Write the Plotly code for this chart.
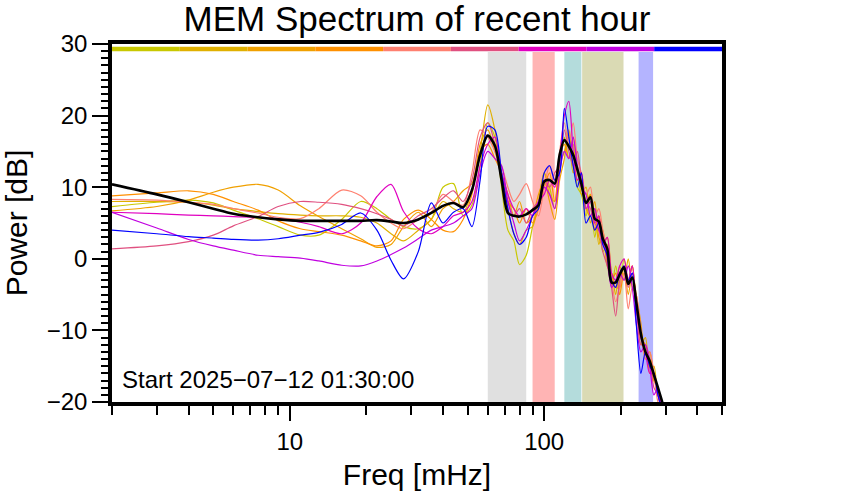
import math
import plotly.graph_objects as go

# ---------------- data ----------------
freq = [2, 3, 4, 5, 6, 7.5, 9, 11, 13, 16,
        19, 22, 25, 28, 32, 36, 40, 44, 48, 52,
        56, 60, 64, 68, 72, 76, 80, 85, 90, 95,
        100, 105, 110, 115, 120, 125, 130, 135, 140, 146,
        152, 158, 164, 170, 177, 184, 191, 198, 206, 214,
        222, 230, 240, 250, 260, 270, 280, 290, 300]

series_names = ["yg", "gold", "org1", "org2", "salmon", "pink", "magenta", "purple", "blue"]
series_colors = ["#c8c800", "#e0b000", "#f0a000", "#ff9000", "#ff8070",
                 "#e05080", "#e000c0", "#c000e0", "#0000ff"]

yg = [7.3, 7.9, 8.2, 7.8, 6.8, 5.6, 4.5, 3.3, 3.3, 5.5,
      8.0, 7.0, 5.5, 4.5, 4.2, 5.5, 10.0, 10.5, 6.0, 7.5,
      13, 19, 17, 10, 4, 2.5, -0.8, 0.5, 4.5, 8,
      12, 10, 7, 12, 17, 14, 16, 10, 9, 6,
      9, 3, 6, 1, 2, -4, -1, -4, 0, -3,
      -1, -7, -10, -13, -15, -16, -19, -21, -24]
gold = [8.0, 8.0, 7.9, 7.5, 7.0, 6.6, 6.3, 6.1, 6.0, 6.0,
        5.8, 5.0, 3.5, 2.5, 4.0, 5.5, 8.0, 7.0, 6.5, 9.5,
        15, 21.5, 18, 11, 7, 3.5, 2, 4, 4.5, 8,
        12, 9, 8, 13, 15, 17, 12, 13, 9, 10,
        5, 7, 2, 4, -1, -2, -5, -1, -3, 0,
        -4, -5, -12, -11, -16, -15, -19, -20, -23]
org1 = [6.7, 7.3, 8.2, 9.3, 10.0, 10.4, 9.6, 7.4, 5.9, 4.2,
        2.8, 1.6, 2.0, 4.5, 6.5, 4.5, 7.0, 8.0, 9.5, 10.5,
        16, 18, 15, 12, 9, 6, 8, 5, 6, 9,
        11, 8, 5.5, 11, 14, 18, 13, 11, 12, 7,
        6, 8, 3, 2, 3, -2, -4, -4, -1, -5,
        -2, -5, -9, -14, -13, -17, -18, -21, -24]
org2 = [8.8, 9.2, 9.5, 9.0, 8.0, 6.8, 5.3, 4.2, 3.8, 3.3,
        2.5, 1.8, 2.5, 5.5, 6.8, 5.5, 4.0, 3.8, 5.5, 9.0,
        15, 16, 14, 12, 8, 7, 5, 7, 5, 7,
        10, 12, 8, 14, 16, 14, 17, 12, 10, 8,
        9, 4, 6, 3, 0, -3, -2, -5, -2, -3,
        -1, -6, -11, -12, -15, -17, -18, -22, -25]
salmon = [8.3, 8.2, 7.9, 7.6, 7.0, 6.4, 5.8, 5.6, 7.0, 9.6,
          8.8, 6.5, 5.0, 4.2, 5.5, 6.5, 9.0, 8.0, 7.5, 12.0,
          18, 17, 15, 13, 10, 8, 9, 10.5, 8, 6,
          10, 13, 11, 15, 19, 16, 19, 14, 12, 9,
          10, 6, 7, 4, 1, -3, -6, -4, -2, -7,
          -4, -5, -10, -14, -13, -16, -20, -21, -24]
pink = [1.4, 1.8, 2.4, 3.3, 4.6, 5.9, 7.3, 8.0, 7.9, 7.6,
        7.0, 6.3, 5.5, 4.6, 6.0, 7.0, 8.5, 9.5, 8.0, 11.0,
        17, 19, 16, 11, 8, 6, 7, 5, 7, 8,
        11, 10, 12, 13, 18, 15, 13, 15, 11, 8,
        7, 5, 4, 1, -1, -4, -8, -3, -1, -4,
        -2, -6, -12, -12, -14, -18, -19, -22, -24]
magenta = [6.5, 6.3, 6.1, 6.0, 5.9, 5.8, 5.6, 5.1, 4.5, 3.5,
           5.0, 8.7, 10.4, 6.6, 4.2, 3.5, 4.5, 6.0, 6.5, 8.0,
           13, 16, 17, 12, 9, 7, 6, 7, 6, 8,
           9, 11, 10, 14, 20, 22, 15, 11, 12, 7,
           8, 5, 6, 2, 3, -2, -3, -1, 0, -3,
           -1, -7, -11, -13, -16, -16, -19, -21, -25]
purple = [6.5, 4.3, 2.7, 1.8, 1.2, 0.5, 0.3, 0.1, -0.3, -0.9,
          -1.0, -0.3, 0.6, 1.5, 2.8, 4.0, 4.5, 5.0, 6.0, 7.0,
          12, 15, 14, 13, 8, 5, 2.5, 4, 6, 8,
          10, 9, 7, 12, 15, 14, 17, 13, 10, 9,
          6, 7, 4, 3, 0, -4, -3, -2, -3, -1,
          -4, -9, -13, -12, -15, -19, -18, -22, -25]
blue = [4.0, 3.5, 3.1, 2.9, 2.7, 2.6, 2.8, 3.3, 3.7, 4.8,
        6.4, 4.0, -0.2, -2.8, 1.0, 7.8, 5.0, 6.5, 7.0, 4.5,
        11, 18.5, 18, 12, 7, 3.5, 2, 3, 6, 7,
        12, 13, 11, 12, 21, 17, 13, 10, 12, 5,
        6, 4, 5, 2, 0.5, -3, -4, -2, -1, -3,
        -2, -9, -16, -13, -15, -16, -19, -21, -23]
mean_power = [10.4, 9.0, 7.9, 7.0, 6.3, 5.8, 5.5, 5.3, 5.3, 5.3,
              5.3, 5.4, 5.2, 5.0, 5.5, 6.4, 7.4, 7.8, 7.2, 9.6,
              14.5, 17.2, 15.8, 11.0, 6.4, 6.0, 5.9, 6.2, 6.8, 7.5,
              10.8, 11.0, 10.5, 14.5, 16.6, 15.7, 14.5, 12.5, 10.5, 7.8,
              8.6, 5.6, 5.2, 2.8, 1.4, -3.3, -3.3, -2.2, -1.2, -3.5,
              -2.6, -6.0, -10.5, -13.0, -14.3, -16.2, -18.0, -19.8, -22.0]

series_values = [yg, gold, org1, org2, salmon, pink, magenta, purple, blue]

band_lo = [60, 90, 120, 141, 235]
band_hi = [85, 110, 140, 205, 268]
band_colors = ["#e0e0e0", "#ffb4b4", "#b4dcdc", "#dadab4", "#b4b4ff"]

x_major = [10, 100]
x_minor = [2, 3, 4, 5, 6, 7, 8, 9, 20, 30, 40, 50, 60, 70, 80, 90, 200, 300, 400, 500]

# ---------------- figure ----------------
fig = go.Figure()
for name, col, vals in zip(series_names, series_colors, series_values):
    fig.add_trace(go.Scatter(x=freq, y=vals, mode="lines", name=name,
                             line=dict(color=col, width=1.2, shape="spline", smoothing=0.8),
                             hoverinfo="skip"))
fig.add_trace(go.Scatter(x=freq, y=mean_power, mode="lines", name="mean",
                         line=dict(color="black", width=2.6, shape="spline", smoothing=0.8),
                         hoverinfo="skip"))

shapes = []
for lo, hi, col in zip(band_lo, band_hi, band_colors):
    shapes.append(dict(type="rect", xref="x", yref="y", x0=lo, x1=hi, y0=-20, y1=28.9,
                       fillcolor=col, line=dict(width=0), layer="below"))
n = len(series_colors)
for i, col in enumerate(series_colors):
    shapes.append(dict(type="rect", xref="paper", yref="paper", x0=i / n, x1=(i + 1) / n,
                       y0=0.980, y1=0.9925, fillcolor=col, line=dict(width=0), layer="above"))

FONT = "Liberation Sans, Arial, Helvetica, sans-serif"
fig.update_layout(
    width=842, height=500,
    margin=dict(l=108, r=120, t=44, b=98),
    plot_bgcolor="white", paper_bgcolor="white",
    showlegend=False,
    font=dict(family=FONT, size=24, color="black"),
    title=dict(text="MEM Spectrum of recent hour", x=0.5, xref="paper",
               y=0.963, yanchor="middle", font=dict(size=35)),
    shapes=shapes,
    annotations=[dict(text="Start 2025\u221207\u221212 01:30:00", xref="paper", yref="paper",
                      x=0.013, y=0.062, xanchor="left", yanchor="middle",
                      showarrow=False, font=dict(size=24))],
)
fig.update_xaxes(type="log", range=[math.log10(2), math.log10(500)],
                 tickvals=x_major, ticktext=[str(v) for v in x_major],
                 ticks="outside", ticklen=15, tickwidth=2, tickcolor="black",
                 minor=dict(tickvals=x_minor, ticks="outside", ticklen=9, tickwidth=2,
                            tickcolor="black", showgrid=False),
                 showline=True, linewidth=3.5, linecolor="black", mirror=True,
                 showgrid=False, zeroline=False,
                 title=dict(text="Freq [mHz]", font=dict(size=30), standoff=11))
fig.update_yaxes(range=[-20, 30], tick0=0, dtick=10,
                 ticks="outside", ticklen=16, tickwidth=2, tickcolor="black",
                 minor=dict(dtick=1, ticks="outside", ticklen=7, tickwidth=1.5,
                            tickcolor="black", showgrid=False),
                 showline=True, linewidth=3.5, linecolor="black", mirror=True,
                 showgrid=False, zeroline=False,
                 title=dict(text="Power [dB]", font=dict(size=30), standoff=14))

fig.write_html("out.html", config={"displayModeBar": False},
               post_script="document.body.style.margin='0';document.body.style.padding='0';")
